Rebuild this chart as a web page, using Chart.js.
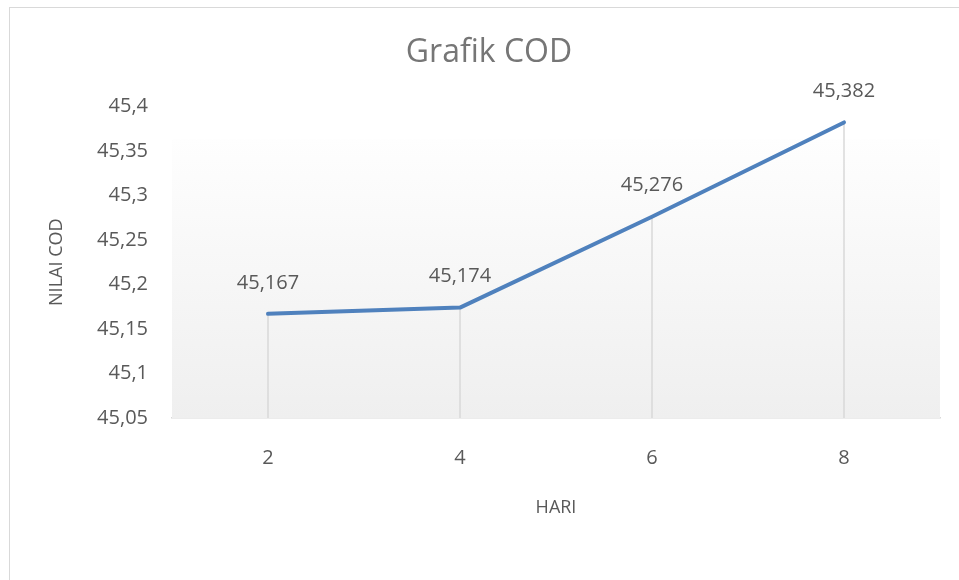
<!DOCTYPE html>
<html>
<head>
<meta charset="utf-8">
<script src="https://cdn.jsdelivr.net/npm/chart.js@4"></script>
<style>
  html, body { margin: 0; padding: 0; background: #fff; overflow: hidden; }
  #wrap { position: relative; width: 959px; height: 580px; }
  #frame { position: absolute; left: 9px; top: 7px; width: 1000px; height: 700px; border: 1px solid #d9d9d9; }
  canvas { position: absolute; left: 0; top: 0; }
</style>
</head>
<body>
<div id="wrap">
  <div id="frame"></div>
  <canvas id="codChart" width="959" height="580"></canvas>
</div>
<script>
const hari = ["2", "4", "6", "8"];
const nilaiCOD = [45.167, 45.174, 45.276, 45.382];
const yTicks = [45.05, 45.1, 45.15, 45.2, 45.25, 45.3, 45.35, 45.4];

const textColor = "#595959";
const fontFamily = "'Open Sans', sans-serif";

function koma(v, digits) {
  return Number(v).toFixed(digits).replace(/0+$/, "").replace(/\.$/, "").replace(".", ",");
}

// plot area fill (light gradient like Excel) + drop lines
const plotBg = {
  id: "plotBg",
  beforeDatasetsDraw(chart) {
    const { ctx, chartArea } = chart;
    const top = chartArea.top + 33;
    const g = ctx.createLinearGradient(0, top, 0, chartArea.bottom);
    g.addColorStop(0, "#fefefe");
    g.addColorStop(1, "#efefef");
    ctx.save();
    ctx.fillStyle = g;
    ctx.fillRect(chartArea.left, top, chartArea.right - chartArea.left, chartArea.bottom - top);

    const meta = chart.getDatasetMeta(0);
    ctx.strokeStyle = "#d9d9d9";
    ctx.lineWidth = 1.5;
    meta.data.forEach(pt => {
      ctx.beginPath();
      ctx.moveTo(pt.x, pt.y);
      ctx.lineTo(pt.x, chartArea.bottom);
      ctx.stroke();
    });
    ctx.restore();
  }
};

// value labels above points
const valueLabels = {
  id: "valueLabels",
  afterDatasetsDraw(chart) {
    const { ctx } = chart;
    const meta = chart.getDatasetMeta(0);
    ctx.save();
    ctx.fillStyle = textColor;
    ctx.font = "20px " + fontFamily;
    ctx.textAlign = "center";
    ctx.textBaseline = "middle";
    meta.data.forEach((pt, i) => {
      ctx.fillText(nilaiCOD[i].toFixed(3).replace(".", ","), pt.x, pt.y - 31);
    });
    ctx.restore();
  }
};

new Chart(document.getElementById("codChart"), {
  type: "line",
  data: {
    labels: hari,
    datasets: [{
      label: "COD",
      data: nilaiCOD,
      borderColor: "#4f81bd",
      borderWidth: 4,
      borderCapStyle: "round",
      borderJoinStyle: "round",
      pointRadius: 0,
      tension: 0,
      fill: false
    }]
  },
  options: {
    responsive: false,
    animation: false,
    layout: { padding: { top: 4, right: 19, bottom: 0, left: 38 } },
    plugins: {
      legend: { display: false },
      tooltip: { enabled: false },
      title: {
        display: true,
        text: "Grafik COD",
        color: "#767676",
        font: { family: fontFamily, size: 32, weight: "normal" },
        padding: { top: 30, bottom: 34 }
      }
    },
    scales: {
      x: {
        offset: true,
        grid: { display: false, drawTicks: false },
        border: { display: true, color: "#d9d9d9", width: 1.5 },
        ticks: { color: textColor, font: { family: fontFamily, size: 20 }, padding: 28 },
        title: {
          display: true,
          text: "HARI",
          color: textColor,
          font: { family: fontFamily, size: 18 },
          padding: { top: 0, bottom: 61 }
        },
        afterFit(scale) { scale.height = 162; }
      },
      y: {
        min: yTicks[0],
        max: yTicks[yTicks.length - 1],
        grid: { display: false, drawTicks: false },
        border: { display: false },
        afterBuildTicks(scale) { scale.ticks = yTicks.map(v => ({ value: v })); },
        ticks: {
          color: textColor,
          font: { family: fontFamily, size: 20 },
          padding: 24,
          callback: v => koma(v, 2)
        },
        title: {
          display: true,
          text: "NILAI COD",
          color: textColor,
          font: { family: fontFamily, size: 18 },
          padding: { top: 8, bottom: 0 }
        },
        afterFit(scale) { scale.width = 134; }
      }
    }
  },
  plugins: [plotBg, valueLabels]
});
</script>
</body>
</html>
